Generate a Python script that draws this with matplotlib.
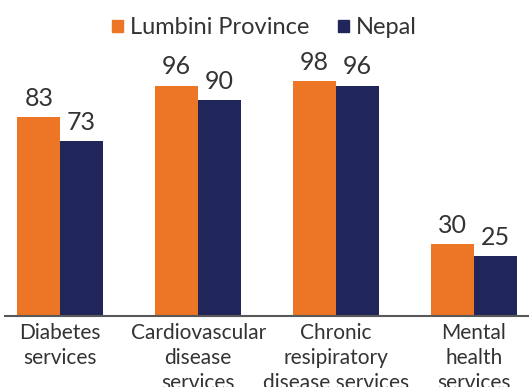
import numpy as np
import matplotlib.pyplot as plt
from matplotlib.patches import Patch

plt.rcParams['font.family'] = ['Lato', 'DejaVu Sans']

categories = ["Diabetes\nservices", "Cardiovascular\ndisease\nservices",
              "Chronic\nresipiratory\ndisease services", "Mental\nhealth\nservices"]
lumbini = [83, 96, 98, 30]
nepal = [73, 90, 96, 25]

ORANGE = '#EC7625'
NAVY = '#20265A'
TEXT = '#333333'

fig = plt.figure(figsize=(5.29, 3.87), dpi=100)
ax = fig.add_axes([0.0095, 0.1835, 1.017, 0.620])

x = np.arange(len(categories))
w = 0.31
ax.bar(x - w / 2, lumbini, w, color=ORANGE)
ax.bar(x + w / 2, nepal, w, color=NAVY)

for xi, v in zip(x - w / 2, lumbini):
    ax.text(xi, v + 3, str(v), ha='center', va='bottom', fontsize=18, color=TEXT)
for xi, v in zip(x + w / 2, nepal):
    ax.text(xi, v + 3, str(v), ha='center', va='bottom', fontsize=18, color=TEXT)

ax.set_xlim(-0.4, 3.5)
ax.set_ylim(0, 100)
ax.set_xticks(x)
ax.set_xticklabels(categories, fontsize=15, color=TEXT, linespacing=1.3)
ax.tick_params(axis='x', length=0, pad=5)
ax.set_yticks([])
for s in ['top', 'left', 'right']:
    ax.spines[s].set_visible(False)
ax.spines['bottom'].set_color('#595959')
ax.spines['bottom'].set_linewidth(1.5)

handles = [Patch(color=ORANGE, label='Lumbini Province'), Patch(color=NAVY, label='Nepal')]
fig.legend(handles=handles, loc='center', bbox_to_anchor=(0.5, 1 - 28 / 387), ncol=2,
           frameon=False, fontsize=17, handlelength=0.45, handleheight=0.45,
           handletextpad=0.3, columnspacing=1.2, labelcolor=TEXT)

fig.savefig('out.png', dpi=100)
